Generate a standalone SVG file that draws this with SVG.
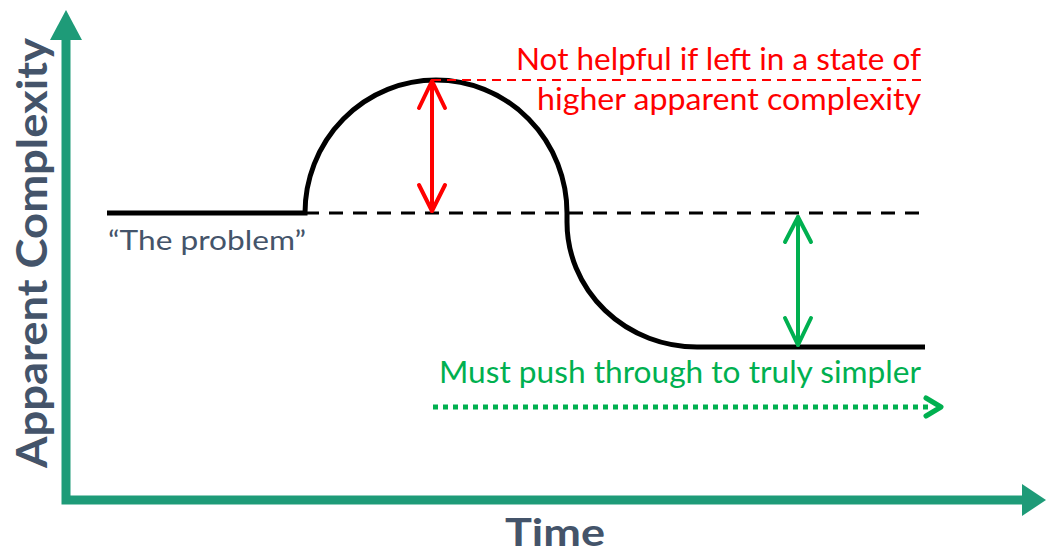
<svg xmlns="http://www.w3.org/2000/svg" width="1048" height="556" viewBox="0 0 1048 556">
<style>
.axis{stroke:#1E9B78;stroke-width:9;fill:none}
.axhead{fill:#1E9B78}
.curve{stroke:#000;stroke-width:5;fill:none}
.lbl{font-family:Lato,"Open Sans","Liberation Sans",sans-serif}
.red{fill:#FF0000}
.grn{fill:#00B050}
.slate{fill:#44546A}
</style>
<rect width="1048" height="556" fill="#fff"/>
<g id="axes">
<path class="axis" d="M66,38 V500 H1024"/>
<polygon class="axhead" points="66,10 50,40 82,40"/>
<polygon class="axhead" points="1046,500 1022,484 1022,516"/>
<text class="lbl slate" x="555" y="546" font-size="38" font-weight="bold" text-anchor="middle" textLength="100" lengthAdjust="spacingAndGlyphs">Time</text>
<text class="lbl slate" transform="translate(47,253) rotate(-90)" font-size="42" font-weight="bold" text-anchor="middle" textLength="430" lengthAdjust="spacingAndGlyphs">Apparent Complexity</text>
</g>
<g id="curve">
<path class="curve" d="M107,213 H305 A131,133 0 0,1 567,213 V222 A130,125 0 0,0 697,347 H925"/>
</g>
<g id="connectors">
<line x1="305" y1="213" x2="928" y2="213" stroke="#000" stroke-width="3" stroke-dasharray="14,10"/>
<line x1="432" y1="80" x2="921" y2="80" stroke="#FF0000" stroke-width="2" stroke-dasharray="9,6"/>
<g stroke="#FF0000" stroke-width="4" fill="none" stroke-linecap="round" stroke-linejoin="round">
<line x1="432" y1="82" x2="432" y2="211"/>
<polyline points="419,108 432,81 445,108"/>
<polyline points="419,185 432,211 445,185"/>
</g>
<g stroke="#00B050" stroke-width="4" fill="none" stroke-linecap="round" stroke-linejoin="round">
<line x1="798" y1="217" x2="798" y2="345"/>
<polyline points="785,242 798,217 811,242"/>
<polyline points="785,318 798,345 811,318"/>
</g>
<g stroke="#00B050" fill="none">
<line x1="433" y1="407" x2="932" y2="407" stroke-width="5" stroke-dasharray="5,5"/>
<polyline points="926,398 941,407 926,416" stroke-width="5" stroke-linecap="round" stroke-linejoin="round"/>
</g>
</g>
<g id="labels">
<text class="lbl red" x="921" y="70" font-size="30" text-anchor="end" textLength="405" lengthAdjust="spacingAndGlyphs">Not helpful if left in a state of</text>
<text class="lbl red" x="921" y="110" font-size="30" text-anchor="end" textLength="384" lengthAdjust="spacingAndGlyphs">higher apparent complexity</text>
<text class="lbl grn" x="921" y="383" font-size="30" text-anchor="end" textLength="482" lengthAdjust="spacingAndGlyphs">Must push through to truly simpler</text>
<text class="lbl slate" x="108" y="250" font-size="27" textLength="198" lengthAdjust="spacingAndGlyphs">“The problem”</text>
</g>
</svg>
